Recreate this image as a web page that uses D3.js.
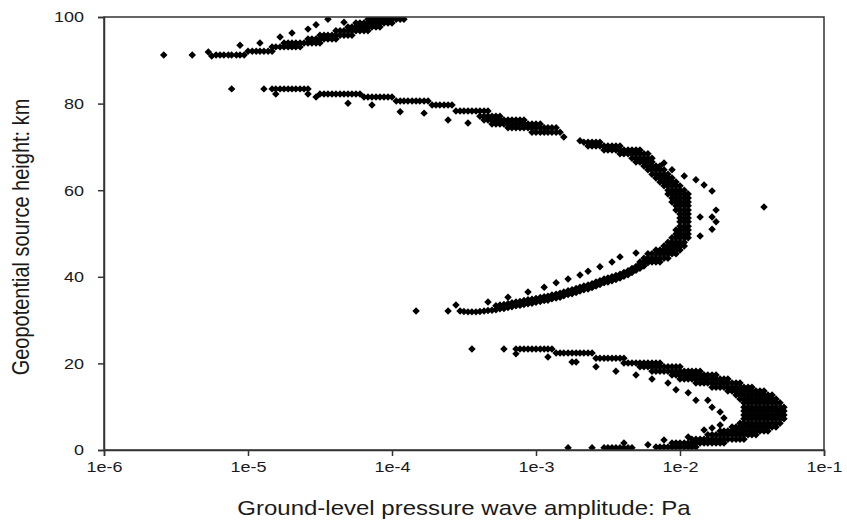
<!DOCTYPE html>
<html>
<head>
<meta charset="utf-8">
<script src="https://cdn.jsdelivr.net/npm/d3@7"></script>
<style>
  body { margin: 0; background: #fff; }
  text { font-family: "Liberation Sans", Arial, sans-serif; fill: #1a1a1a; }
</style>
</head>
<body>
<svg id="chart" width="847" height="524"></svg>
<script>
// rows: [geopotential height km, [ground pressure amplitudes Pa at that height]]
// scatter: [height km, amplitude Pa]

// ---- branch above 90 km ----
var upperRows = [
  [91.2, [6.0e-6, 6.4e-6, 6.8e-6, 7.3e-6, 7.7e-6, 8.3e-6, 8.8e-6, 9.4e-6]],
  [92.1, [1.0e-5, 1.07e-5, 1.14e-5, 1.21e-5, 1.29e-5, 1.38e-5, 1.47e-5]],
  [93.1, [1.47e-5, 1.56e-5, 1.67e-5, 1.78e-5, 1.9e-5, 2.02e-5, 2.15e-5, 2.3e-5]],
  [94.0, [1.78e-5, 1.9e-5, 2.02e-5, 2.15e-5, 2.3e-5, 2.45e-5, 2.61e-5, 2.78e-5, 2.97e-5, 3.16e-5]],
  [94.9, [2.61e-5, 2.78e-5, 2.97e-5, 3.16e-5, 3.37e-5, 3.59e-5, 3.83e-5, 4.08e-5]],
  [95.8, [3.16e-5, 3.37e-5, 3.59e-5, 3.83e-5, 4.08e-5, 4.36e-5, 4.64e-5, 4.95e-5, 5.27e-5]],
  [96.8, [4.08e-5, 4.36e-5, 4.64e-5, 4.95e-5, 5.27e-5, 5.62e-5, 5.99e-5, 6.39e-5, 6.81e-5]],
  [97.7, [4.95e-5, 5.27e-5, 5.62e-5, 5.99e-5, 6.39e-5, 6.81e-5, 7.26e-5, 7.74e-5, 8.25e-5]],
  [98.6, [5.62e-5, 5.99e-5, 6.39e-5, 6.81e-5, 7.26e-5, 7.74e-5, 8.25e-5, 8.8e-5, 9.38e-5, 1.0e-4]],
  [99.5, [6.81e-5, 7.26e-5, 7.74e-5, 8.25e-5, 8.8e-5, 9.38e-5, 1.0e-4, 1.07e-4, 1.14e-4, 1.21e-4]]
];
var upperScatter = [
  [91.2, 2.6e-6], [91.2, 4.1e-6], [91.9, 5.3e-6], [91.0, 5.6e-6],
  [93.5, 8.8e-6], [94.0, 1.21e-5], [95.4, 1.67e-5], [96.3, 2.02e-5], [97.2, 2.61e-5],
  [98.2, 2.97e-5], [99.5, 3.59e-5], [98.8, 4.64e-5]
];

// ---- branch from 83 km round the 52 km turning point down to 32 km ----
var middleRows = [
  [83.4, [1.47e-5, 1.56e-5, 1.67e-5, 1.78e-5, 1.9e-5, 2.02e-5, 2.15e-5, 2.3e-5, 2.45e-5, 2.61e-5]],
  [82.2, [3.16e-5, 3.37e-5, 3.59e-5, 3.83e-5, 4.08e-5, 4.36e-5, 4.64e-5, 4.95e-5, 5.27e-5, 5.62e-5, 5.99e-5]],
  [81.5, [6.39e-5, 6.81e-5, 7.26e-5, 7.74e-5, 8.25e-5, 8.8e-5, 9.38e-5, 1.0e-4]],
  [80.6, [1.07e-4, 1.14e-4, 1.21e-4, 1.29e-4, 1.38e-4, 1.47e-4, 1.56e-4, 1.67e-4, 1.78e-4]],
  [79.7, [1.9e-4, 2.02e-4, 2.15e-4, 2.3e-4, 2.45e-4, 2.61e-4]],
  [78.3, [2.78e-4, 2.97e-4, 3.16e-4, 3.37e-4, 3.59e-4, 3.83e-4, 4.08e-4, 4.36e-4, 4.64e-4]],
  [77.1, [4.08e-4, 4.36e-4, 4.64e-4, 4.95e-4, 5.27e-4, 5.62e-4]],
  [76.2, [4.36e-4, 4.64e-4, 4.95e-4, 5.27e-4, 5.62e-4, 5.99e-4, 6.39e-4, 6.81e-4, 7.26e-4, 7.74e-4, 8.25e-4]],
  [75.3, [4.95e-4, 5.27e-4, 5.62e-4, 5.99e-4, 6.39e-4, 6.81e-4, 7.26e-4, 7.74e-4, 8.25e-4, 8.8e-4, 9.38e-4, 1.0e-3, 1.07e-3]],
  [74.4, [6.39e-4, 6.81e-4, 7.26e-4, 7.74e-4, 8.25e-4, 8.8e-4, 9.38e-4, 1.0e-3, 1.07e-3, 1.14e-3, 1.21e-3, 1.29e-3, 1.38e-3]],
  [73.4, [9.38e-4, 1.0e-3, 1.07e-3, 1.14e-3, 1.21e-3, 1.29e-3, 1.38e-3, 1.47e-3]],
  [71.1, [2.15e-3, 2.3e-3, 2.45e-3, 2.61e-3, 2.78e-3]],
  [70.2, [2.3e-3, 2.45e-3, 2.61e-3, 2.78e-3, 2.97e-3, 3.16e-3, 3.37e-3, 3.59e-3, 3.83e-3]],
  [69.3, [2.97e-3, 3.16e-3, 3.37e-3, 3.59e-3, 3.83e-3, 4.08e-3, 4.36e-3, 4.64e-3, 4.95e-3, 5.27e-3]],
  [68.4, [3.83e-3, 4.08e-3, 4.36e-3, 4.64e-3, 4.95e-3, 5.27e-3, 5.62e-3, 5.99e-3]],
  [67.4, [4.64e-3, 4.95e-3, 5.27e-3, 5.62e-3, 5.99e-3, 6.39e-3]],
  [66.5, [4.95e-3, 5.27e-3, 5.62e-3, 5.99e-3, 6.39e-3]],
  [65.6, [5.62e-3, 5.99e-3, 6.39e-3, 6.81e-3, 7.26e-3]],
  [64.7, [5.99e-3, 6.39e-3, 6.81e-3, 7.26e-3, 7.74e-3]],
  [63.7, [6.39e-3, 6.81e-3, 7.26e-3, 7.74e-3, 8.25e-3]],
  [62.8, [6.81e-3, 7.26e-3, 7.74e-3, 8.25e-3, 8.8e-3]],
  [61.9, [7.26e-3, 7.74e-3, 8.25e-3, 8.8e-3, 9.38e-3]],
  [61.0, [7.74e-3, 8.25e-3, 8.8e-3, 9.38e-3, 1.0e-2]],
  [60.0, [8.25e-3, 8.8e-3, 9.38e-3, 1.0e-2, 1.07e-2]],
  [59.1, [8.25e-3, 8.8e-3, 9.38e-3, 1.0e-2, 1.07e-2, 1.14e-2]],
  [58.2, [8.8e-3, 9.38e-3, 1.0e-2, 1.07e-2, 1.14e-2]],
  [57.3, [8.8e-3, 9.38e-3, 1.0e-2, 1.07e-2, 1.14e-2]],
  [56.4, [9.38e-3, 1.0e-2, 1.07e-2, 1.14e-2]],
  [55.4, [9.38e-3, 1.0e-2, 1.07e-2, 1.14e-2]],
  [54.5, [1.0e-2, 1.07e-2, 1.14e-2]],
  [53.6, [1.0e-2, 1.07e-2, 1.14e-2]],
  [52.7, [1.0e-2, 1.07e-2, 1.14e-2]],
  [51.7, [1.0e-2, 1.07e-2, 1.14e-2]],
  [50.8, [9.38e-3, 1.0e-2, 1.07e-2, 1.14e-2]],
  [49.9, [9.38e-3, 1.0e-2, 1.07e-2, 1.14e-2]],
  [49.0, [8.8e-3, 9.38e-3, 1.0e-2, 1.07e-2, 1.14e-2]],
  [48.0, [8.25e-3, 8.8e-3, 9.38e-3, 1.0e-2, 1.07e-2]],
  [47.1, [7.74e-3, 8.25e-3, 8.8e-3, 9.38e-3, 1.0e-2, 1.07e-2]],
  [46.2, [6.81e-3, 7.26e-3, 7.74e-3, 8.25e-3, 8.8e-3, 9.38e-3, 1.0e-2]],
  [45.3, [5.99e-3, 6.39e-3, 6.81e-3, 7.26e-3, 7.74e-3, 8.25e-3, 8.8e-3, 9.38e-3]],
  [44.3, [5.62e-3, 5.99e-3, 6.39e-3, 6.81e-3, 7.26e-3, 7.74e-3, 8.25e-3]],
  [43.4, [5.27e-3, 5.62e-3, 5.99e-3, 6.39e-3, 6.81e-3, 7.26e-3]]
];
// lower limb of that branch, 44 km down to 32 km
var middleLimb = [
  [32.1, 2.97e-4], [32.0, 3.16e-4], [31.9, 3.37e-4], [31.9, 3.59e-4], [31.9, 3.83e-4], [32.0, 4.08e-4],
  [32.1, 4.36e-4], [32.2, 4.64e-4], [32.3, 4.95e-4], [32.4, 5.27e-4], [32.6, 5.62e-4], [32.7, 5.99e-4],
  [32.9, 6.39e-4], [33.1, 6.81e-4], [33.3, 7.26e-4], [33.4, 7.74e-4], [33.6, 8.25e-4], [33.8, 8.8e-4],
  [33.9, 9.38e-4], [34.1, 1.0e-3], [34.3, 1.07e-3], [34.5, 1.14e-3], [34.6, 1.21e-3], [34.9, 1.29e-3],
  [35.1, 1.38e-3], [35.3, 1.47e-3], [35.6, 1.56e-3], [35.9, 1.67e-3], [36.1, 1.78e-3], [36.4, 1.9e-3],
  [36.7, 2.02e-3], [37.0, 2.15e-3], [37.2, 2.3e-3], [37.5, 2.45e-3], [37.9, 2.61e-3], [38.2, 2.78e-3],
  [38.6, 2.97e-3], [38.8, 3.16e-3], [39.1, 3.37e-3], [39.4, 3.59e-3], [39.7, 3.83e-3], [40.1, 4.08e-3],
  [40.5, 4.36e-3], [41.0, 4.64e-3], [41.5, 4.95e-3], [42.0, 5.27e-3], [42.5, 5.62e-3], [43.3, 5.99e-3],
  [44.1, 6.39e-3],
  [33.3, 5.27e-4], [33.5, 5.62e-4], [33.6, 5.99e-4], [33.8, 6.39e-4], [34.0, 6.81e-4], [34.2, 7.26e-4],
  [34.3, 7.74e-4], [34.5, 8.25e-4], [34.7, 8.8e-4], [34.8, 9.38e-4], [35.0, 1.0e-3], [35.2, 1.07e-3],
  [35.4, 1.14e-3], [35.5, 1.21e-3], [35.8, 1.29e-3], [36.0, 1.38e-3], [36.2, 1.47e-3], [36.5, 1.56e-3],
  [36.8, 1.67e-3], [37.0, 1.78e-3], [37.3, 1.9e-3], [37.6, 2.02e-3], [37.9, 2.15e-3], [38.1, 2.3e-3],
  [38.4, 2.45e-3], [38.8, 2.61e-3], [39.1, 2.78e-3], [39.5, 2.97e-3], [39.7, 3.16e-3], [40.0, 3.37e-3],
  [40.3, 3.59e-3], [40.6, 3.83e-3], [41.0, 4.08e-3], [41.4, 4.36e-3], [41.9, 4.64e-3], [42.4, 4.95e-3],
  [42.9, 5.27e-3], [43.4, 5.62e-3]
];
var middleScatter = [
  [83.4, 7.7e-6], [83.4, 1.29e-5], [82.2, 1.56e-5], [82.2, 2.61e-5], [81.5, 2.97e-5], [80.1, 4.95e-5],
  [79.7, 7.26e-5], [78.1, 1.14e-4], [77.8, 1.67e-4], [76.2, 2.45e-4], [75.5, 3.37e-4],
  [72.3, 1.56e-3], [71.4, 2.02e-3],
  [66.3, 7.74e-3], [64.7, 8.8e-3], [63.3, 1.07e-2], [62.4, 1.29e-2], [61.2, 1.47e-2], [59.8, 1.67e-2],
  [53.8, 1.38e-2], [53.8, 1.67e-2], [55.4, 1.78e-2], [52.7, 1.78e-2], [51.0, 1.67e-2], [49.4, 1.38e-2],
  [32.1, 1.47e-4], [32.1, 2.45e-4], [33.5, 2.78e-4], [34.2, 4.64e-4], [35.3, 6.39e-4], [36.5, 8.8e-4],
  [37.6, 1.14e-3], [38.6, 1.38e-3], [39.5, 1.67e-3], [40.4, 2.02e-3], [41.3, 2.3e-3], [42.3, 2.78e-3],
  [43.4, 3.37e-3], [44.6, 3.83e-3], [45.5, 4.95e-3]
];

// ---- branch below 24 km ----
var lowerRows = [
  [23.3, [7.74e-4, 8.25e-4, 8.8e-4, 9.38e-4, 1.0e-3, 1.07e-3, 1.14e-3, 1.21e-3, 1.29e-3]],
  [22.4, [1.38e-3, 1.47e-3, 1.56e-3, 1.67e-3, 1.78e-3, 1.9e-3, 2.02e-3, 2.15e-3, 2.3e-3, 2.45e-3]],
  [21.2, [2.61e-3, 2.78e-3, 2.97e-3, 3.16e-3, 3.37e-3, 3.59e-3, 3.83e-3, 4.08e-3]],
  [20.1, [4.08e-3, 4.36e-3, 4.64e-3, 4.95e-3, 5.27e-3, 5.62e-3, 5.99e-3, 6.39e-3, 6.81e-3, 7.26e-3]],
  [19.2, [5.27e-3, 5.62e-3, 5.99e-3, 6.39e-3, 6.81e-3, 7.26e-3, 7.74e-3, 8.25e-3, 8.8e-3, 9.38e-3, 1.0e-2]],
  [18.2, [6.39e-3, 6.81e-3, 7.26e-3, 7.74e-3, 8.25e-3, 8.8e-3, 9.38e-3, 1.0e-2, 1.07e-2, 1.14e-2, 1.21e-2, 1.29e-2, 1.38e-2]],
  [17.3, [8.8e-3, 9.38e-3, 1.0e-2, 1.07e-2, 1.14e-2, 1.21e-2, 1.29e-2, 1.38e-2, 1.47e-2, 1.56e-2, 1.67e-2, 1.78e-2]],
  [16.4, [1.0e-2, 1.07e-2, 1.14e-2, 1.21e-2, 1.29e-2, 1.38e-2, 1.47e-2, 1.56e-2, 1.67e-2, 1.78e-2, 1.9e-2, 2.02e-2, 2.15e-2]],
  [15.5, [1.29e-2, 1.38e-2, 1.47e-2, 1.56e-2, 1.67e-2, 1.78e-2, 1.9e-2, 2.02e-2, 2.15e-2, 2.3e-2, 2.45e-2, 2.61e-2]],
  [14.5, [1.67e-2, 1.78e-2, 1.9e-2, 2.02e-2, 2.15e-2, 2.3e-2, 2.45e-2, 2.61e-2, 2.78e-2, 2.97e-2, 3.16e-2]],
  [13.6, [2.15e-2, 2.3e-2, 2.45e-2, 2.61e-2, 2.78e-2, 2.97e-2, 3.16e-2, 3.37e-2, 3.59e-2, 3.83e-2]],
  [12.7, [2.45e-2, 2.61e-2, 2.78e-2, 2.97e-2, 3.16e-2, 3.37e-2, 3.59e-2, 3.83e-2, 4.08e-2, 4.36e-2]],
  [11.8, [2.61e-2, 2.78e-2, 2.97e-2, 3.16e-2, 3.37e-2, 3.59e-2, 3.83e-2, 4.08e-2, 4.36e-2, 4.64e-2]],
  [10.9, [2.78e-2, 2.97e-2, 3.16e-2, 3.37e-2, 3.59e-2, 3.83e-2, 4.08e-2, 4.36e-2, 4.64e-2, 4.95e-2]],
  [9.9, [2.78e-2, 2.97e-2, 3.16e-2, 3.37e-2, 3.59e-2, 3.83e-2, 4.08e-2, 4.36e-2, 4.64e-2, 4.95e-2, 5.27e-2]],
  [9.0, [2.78e-2, 2.97e-2, 3.16e-2, 3.37e-2, 3.59e-2, 3.83e-2, 4.08e-2, 4.36e-2, 4.64e-2, 4.95e-2, 5.27e-2]],
  [8.1, [2.78e-2, 2.97e-2, 3.16e-2, 3.37e-2, 3.59e-2, 3.83e-2, 4.08e-2, 4.36e-2, 4.64e-2, 4.95e-2, 5.27e-2]],
  [7.2, [2.78e-2, 2.97e-2, 3.16e-2, 3.37e-2, 3.59e-2, 3.83e-2, 4.08e-2, 4.36e-2, 4.64e-2, 4.95e-2, 5.27e-2]],
  [6.2, [2.61e-2, 2.78e-2, 2.97e-2, 3.16e-2, 3.37e-2, 3.59e-2, 3.83e-2, 4.08e-2, 4.36e-2, 4.64e-2, 4.95e-2]],
  [5.3, [2.3e-2, 2.45e-2, 2.61e-2, 2.78e-2, 2.97e-2, 3.16e-2, 3.37e-2, 3.59e-2, 3.83e-2, 4.08e-2, 4.36e-2, 4.64e-2]],
  [4.4, [1.9e-2, 2.02e-2, 2.15e-2, 2.3e-2, 2.45e-2, 2.61e-2, 2.78e-2, 2.97e-2, 3.16e-2, 3.37e-2, 3.59e-2, 3.83e-2, 4.08e-2]],
  [3.5, [1.56e-2, 1.67e-2, 1.78e-2, 1.9e-2, 2.02e-2, 2.15e-2, 2.3e-2, 2.45e-2, 2.61e-2, 2.78e-2, 2.97e-2, 3.16e-2, 3.37e-2]],
  [2.5, [1.21e-2, 1.29e-2, 1.38e-2, 1.47e-2, 1.56e-2, 1.67e-2, 1.78e-2, 1.9e-2, 2.02e-2, 2.15e-2, 2.3e-2, 2.45e-2, 2.61e-2, 2.78e-2]],
  [1.6, [8.8e-3, 9.38e-3, 1.0e-2, 1.07e-2, 1.14e-2, 1.21e-2, 1.29e-2, 1.38e-2, 1.47e-2, 1.56e-2, 1.67e-2, 1.78e-2, 1.9e-2, 2.02e-2]],
  [0.7, [6.81e-3, 7.26e-3, 7.74e-3, 8.25e-3, 8.8e-3, 9.38e-3, 1.0e-2, 1.07e-2, 1.14e-2, 1.21e-2, 1.29e-2]],
  [0.5, [1.67e-3, 2.45e-3, 2.97e-3, 3.16e-3, 3.37e-3, 3.59e-3, 3.83e-3, 4.08e-3, 4.36e-3, 4.64e-3]]
];
var lowerScatter = [
  [23.3, 3.59e-4], [23.3, 5.99e-4], [23.3, 7.26e-4], [22.2, 7.26e-4], [21.5, 1.21e-3],
  [20.3, 1.78e-3], [20.3, 1.9e-3], [19.2, 2.61e-3], [18.2, 3.59e-3], [17.3, 4.95e-3], [16.4, 6.39e-3],
  [15.5, 8.25e-3], [13.9, 9.38e-3], [13.2, 1.14e-2],
  [11.5, 1.29e-2], [11.5, 1.56e-2], [9.9, 1.67e-2], [8.8, 1.9e-2], [7.4, 2.02e-2], [5.8, 1.9e-2],
  [5.1, 1.67e-2], [4.6, 1.47e-2],
  [1.6, 4.08e-3], [1.2, 5.99e-3], [2.3, 7.74e-3], [3.0, 1.14e-2]
];

var strayPoints = [[56.1, 3.83e-2]];

var xTicks = [1e-6, 1e-5, 1e-4, 1e-3, 1e-2, 1e-1];
var xTickLabels = ["1e-6", "1e-5", "1e-4", "1e-3", "1e-2", "1e-1"];
var yTicks = [0, 20, 40, 60, 80, 100];

var margin = { top: 17, right: 23, bottom: 74, left: 104 },
  width = 847 - margin.left - margin.right,
  height = 524 - margin.top - margin.bottom;

var stretch = 1.2; // text in the original is drawn a bit wide

function unroll(rows) {
  var out = [];
  rows.forEach(function (r) {
    r[1].forEach(function (pa) { out.push([r[0], pa]); });
  });
  return out;
}

var allPoints = [].concat(
  unroll(upperRows), upperScatter,
  unroll(middleRows), middleLimb, middleScatter,
  unroll(lowerRows), lowerScatter,
  strayPoints);

var x = d3.scaleLog()
  .domain([1e-6, 1e-1])
  .range([0, width]);

var y = d3.scaleLinear()
  .domain([0, 100])
  .range([height, 0]);

var svg = d3.select("#chart").append("g")
  .attr("transform", "translate(" + margin.left + "," + margin.top + ")");

svg.append("clipPath")
  .attr("id", "plotClip")
  .append("rect")
  .attr("width", width)
  .attr("height", height);

// diamond marker
var diamond = {
  draw: function (context, size) {
    var r = Math.sqrt(size) / 2;
    context.moveTo(0, -r);
    context.lineTo(r, 0);
    context.lineTo(0, r);
    context.lineTo(-r, 0);
    context.closePath();
  }
};
var marker = d3.symbol().type(diamond).size(56);

svg.append("g")
  .attr("clip-path", "url(#plotClip)")
  .selectAll("path")
  .data(allPoints)
  .enter().append("path")
  .attr("d", marker)
  .attr("fill", "#000")
  .attr("transform", function (d) {
    return "translate(" + x(d[1]) + "," + y(d[0]) + ")";
  });

// frame
svg.append("rect")
  .attr("width", width)
  .attr("height", height)
  .attr("fill", "none")
  .attr("stroke", "#333")
  .attr("stroke-width", 1.5);

var xAxis = d3.axisBottom(x)
  .tickValues(xTicks)
  .tickFormat(function (d, i) { return xTickLabels[i]; })
  .tickSize(6);

var gx = svg.append("g")
  .attr("transform", "translate(0," + height + ")")
  .call(xAxis);

var yAxis = d3.axisLeft(y)
  .tickValues(yTicks)
  .tickSize(6);

var gy = svg.append("g").call(yAxis);

[gx, gy].forEach(function (g) {
  g.select(".domain").attr("stroke", "#333").attr("stroke-width", 1.5);
  g.selectAll(".tick line").attr("stroke", "#333").attr("stroke-width", 1.5);
  g.selectAll(".tick text")
    .attr("fill", "#1a1a1a")
    .style("font-size", "15px")
    .style("font-family", "'Liberation Sans', Arial, sans-serif");
});

gx.selectAll(".tick text")
  .attr("y", 11)
  .attr("transform", "scale(" + stretch + ",1)");

gy.selectAll(".tick text")
  .attr("x", -20 / stretch)
  .attr("transform", "scale(" + stretch + ",1)");

d3.select("#chart").append("text")
  .attr("text-anchor", "middle")
  .attr("transform", "translate(464,515) scale(" + stretch + ",1)")
  .style("font-size", "20px")
  .text("Ground-level pressure wave amplitude: Pa");

d3.select("#chart").append("text")
  .attr("text-anchor", "middle")
  .attr("transform", "translate(29,237) scale(" + stretch + ",1) rotate(-90)")
  .style("font-size", "20px")
  .text("Geopotential source height: km");
</script>
</body>
</html>
